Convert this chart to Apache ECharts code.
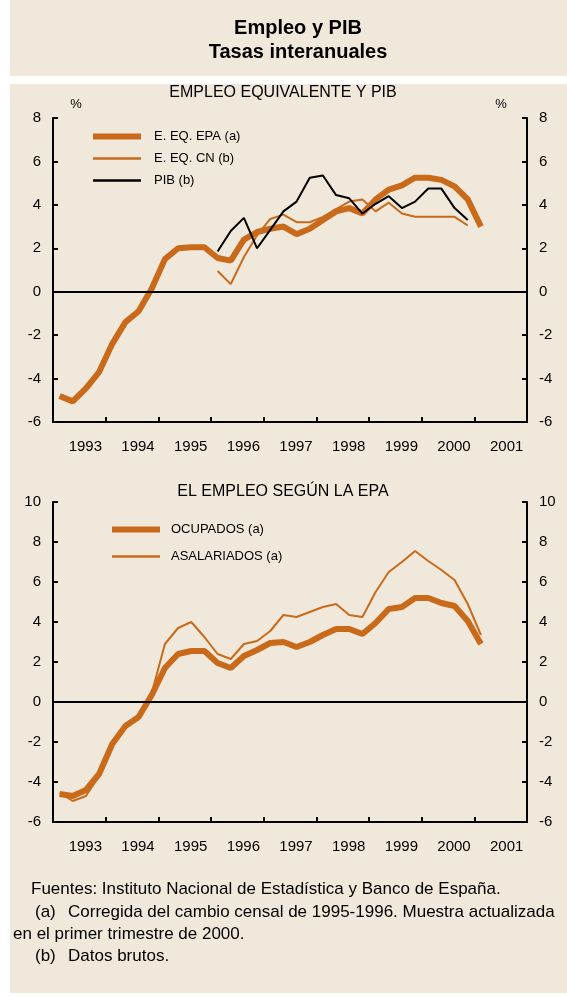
<!DOCTYPE html>
<html>
<head>
<meta charset="utf-8">
<script src="https://cdn.jsdelivr.net/npm/echarts@6/dist/echarts.min.js"></script>
<style>
html,body{margin:0;padding:0;background:#fff;}
#c{width:567px;height:997px;}
</style>
</head>
<body>
<div id="c"></div>
<script>
// Tick labels (years)
const years = ['1993','1994','1995','1996','1997','1998','1999','2000','2001'];
// Quarterly data; start = quarter index counted from 1993 T1
const epaStart = 0;
const epa = [-4.8,-5.05,-4.45,-3.7,-2.4,-1.4,-0.9,0.15,1.5,2.0,2.05,2.05,1.55,1.43,2.4,2.75,2.9,3.0,2.65,2.9,3.3,3.7,3.85,3.6,4.25,4.7,4.9,5.25,5.25,5.15,4.85,4.25,3.0];
const cnStart = 12;
const cn = [0.95,0.35,1.6,2.6,3.35,3.55,3.2,3.2,3.45,3.8,4.15,4.25,3.7,4.1,3.6,3.45,3.45,3.45,3.45,3.05];
const pibStart = 12;
const pib = [1.85,2.8,3.4,2.0,2.85,3.7,4.15,5.25,5.35,4.45,4.3,3.6,4.05,4.4,3.85,4.15,4.75,4.75,3.85,3.3];
const ocuStart = 0;
const ocupados = [-4.6,-4.7,-4.4,-3.6,-2.1,-1.2,-0.75,0.35,1.7,2.4,2.55,2.55,1.95,1.7,2.3,2.6,2.95,3.0,2.75,3.0,3.35,3.65,3.65,3.4,3.95,4.65,4.75,5.2,5.2,4.95,4.8,4.05,2.9];
const asaStart = 0;
const asalariados = [-4.55,-4.95,-4.7,-3.7,-2.1,-1.2,-0.75,0.45,2.9,3.7,4.0,3.25,2.4,2.15,2.9,3.05,3.55,4.35,4.25,4.5,4.75,4.9,4.35,4.25,5.5,6.5,7.0,7.55,7.05,6.6,6.1,4.9,3.35];

function pts(start, arr){ return arr.map((v,k)=>[start+k+0.5, v]); }

const FONT = 'Liberation Sans, Arial, sans-serif';
const ORANGE = '#C96A1B';
const BG = '#F0E8DA';
const THICK_ICON = 'path://M0 0H48V6H0Z';
const THIN_ICON = 'path://M0 0H48V2.5H0Z';

const chart = echarts.init(document.getElementById('c'), null, {renderer:'canvas'});

function valX(grid){
  return {type:'value', gridIndex:grid, min:0, max:36, interval:4,
    axisLine:{onZero:false, lineStyle:{color:'#000', width:2}},
    axisTick:{inside:true, length:5, lineStyle:{color:'#000', width:2}},
    axisLabel:{show:false}, splitLine:{show:false}};
}
function catX(grid){
  return {type:'category', gridIndex:grid, data:years, boundaryGap:true, position:'bottom',
    axisLine:{show:false}, axisTick:{show:false}, splitLine:{show:false},
    axisLabel:{color:'#000', fontSize:15, fontFamily:FONT, margin:17, padding:[0,0,0,12]}};
}
function yAx(grid, pos, min, max){
  return {type:'value', gridIndex:grid, position:pos, min:min, max:max, interval:2,
    axisLine:{show:true, onZero:false, lineStyle:{color:'#000', width:2}},
    axisTick:{show:true, inside:true, length:5, lineStyle:{color:'#000', width:2}},
    axisLabel:{color:'#000', fontSize:15, fontFamily:FONT, margin:12},
    splitLine:{show:false}};
}
const zeroLine = {silent:true, symbol:'none', label:{show:false}, lineStyle:{color:'#000', width:2, type:'solid'}, data:[{yAxis:0}]};
const txt = (x,y,t,font,align)=>({type:'text', x:x, y:y, style:{text:t, font:font, fill:'#000', align:align||'left', verticalAlign:'middle'}});

chart.setOption({
  animation:false,
  backgroundColor:'#fff',
  graphic:[
    {type:'rect', shape:{x:10,y:0,width:557,height:76}, style:{fill:BG}, z:-10},
    {type:'rect', shape:{x:10,y:84,width:557,height:909}, style:{fill:BG}, z:-10},
    txt(298,28,'Empleo y PIB','bold 20px '+FONT,'center'),
    txt(298,52,'Tasas interanuales','bold 20px '+FONT,'center'),
    txt(283,93,'EMPLEO EQUIVALENTE Y PIB','16px '+FONT,'center'),
    txt(76,104,'%','13px '+FONT,'center'),
    txt(501,104,'%','13px '+FONT,'center'),
    txt(283,492,'EL EMPLEO SEGÚN LA EPA','16px '+FONT,'center'),
    txt(31,889,'Fuentes: Instituto Nacional de Estadística y Banco de España.','17px '+FONT),
    txt(35,912,'(a)','17px '+FONT),
    txt(68,912,'Corregida del cambio censal de 1995-1996. Muestra actualizada','17px '+FONT),
    txt(13,934,'en el primer trimestre de 2000.','17px '+FONT),
    txt(35,956,'(b)','17px '+FONT),
    txt(68,956,'Datos brutos.','17px '+FONT)
  ],
  legend:[
    {data:[{name:'E. EQ. EPA (a)', icon:THICK_ICON},{name:'E. EQ. CN (b)', icon:THIN_ICON},{name:'PIB (b)', icon:THIN_ICON}],
      left:88, top:125, orient:'vertical', itemWidth:48, itemHeight:14, itemGap:9, selectedMode:false,
      textStyle:{fontSize:13, fontFamily:FONT, color:'#000', padding:[0,0,0,8]}},
    {data:[{name:'OCUPADOS (a)', icon:THICK_ICON},{name:'ASALARIADOS (a)', icon:THIN_ICON}],
      left:107, top:518, orient:'vertical', itemWidth:48, itemHeight:14, itemGap:14, selectedMode:false,
      textStyle:{fontSize:13, fontFamily:FONT, color:'#000', padding:[0,0,0,6]}}
  ],
  grid:[
    {left:53, right:40, top:118, height:304},
    {left:53, right:40, top:502, height:320}
  ],
  xAxis:[valX(0), catX(0), valX(1), catX(1)],
  yAxis:[yAx(0,'left',-6,8), yAx(0,'right',-6,8), yAx(1,'left',-6,10), yAx(1,'right',-6,10)],
  series:[
    {name:'E. EQ. EPA (a)', type:'line', xAxisIndex:0, yAxisIndex:0, data:pts(epaStart,epa), symbol:'none',
      lineStyle:{color:ORANGE, width:6}, itemStyle:{color:ORANGE}, z:3, markLine:zeroLine},
    {name:'E. EQ. CN (b)', type:'line', xAxisIndex:0, yAxisIndex:0, data:pts(cnStart,cn), symbol:'none',
      lineStyle:{color:ORANGE, width:2}, itemStyle:{color:ORANGE}, z:4},
    {name:'PIB (b)', type:'line', xAxisIndex:0, yAxisIndex:0, data:pts(pibStart,pib), symbol:'none',
      lineStyle:{color:'#000', width:2}, itemStyle:{color:'#000'}, z:5},
    {name:'OCUPADOS (a)', type:'line', xAxisIndex:2, yAxisIndex:2, data:pts(ocuStart,ocupados), symbol:'none',
      lineStyle:{color:ORANGE, width:6}, itemStyle:{color:ORANGE}, z:3, markLine:zeroLine},
    {name:'ASALARIADOS (a)', type:'line', xAxisIndex:2, yAxisIndex:2, data:pts(asaStart,asalariados), symbol:'none',
      lineStyle:{color:ORANGE, width:2}, itemStyle:{color:ORANGE}, z:4}
  ]
});
</script>
</body>
</html>
